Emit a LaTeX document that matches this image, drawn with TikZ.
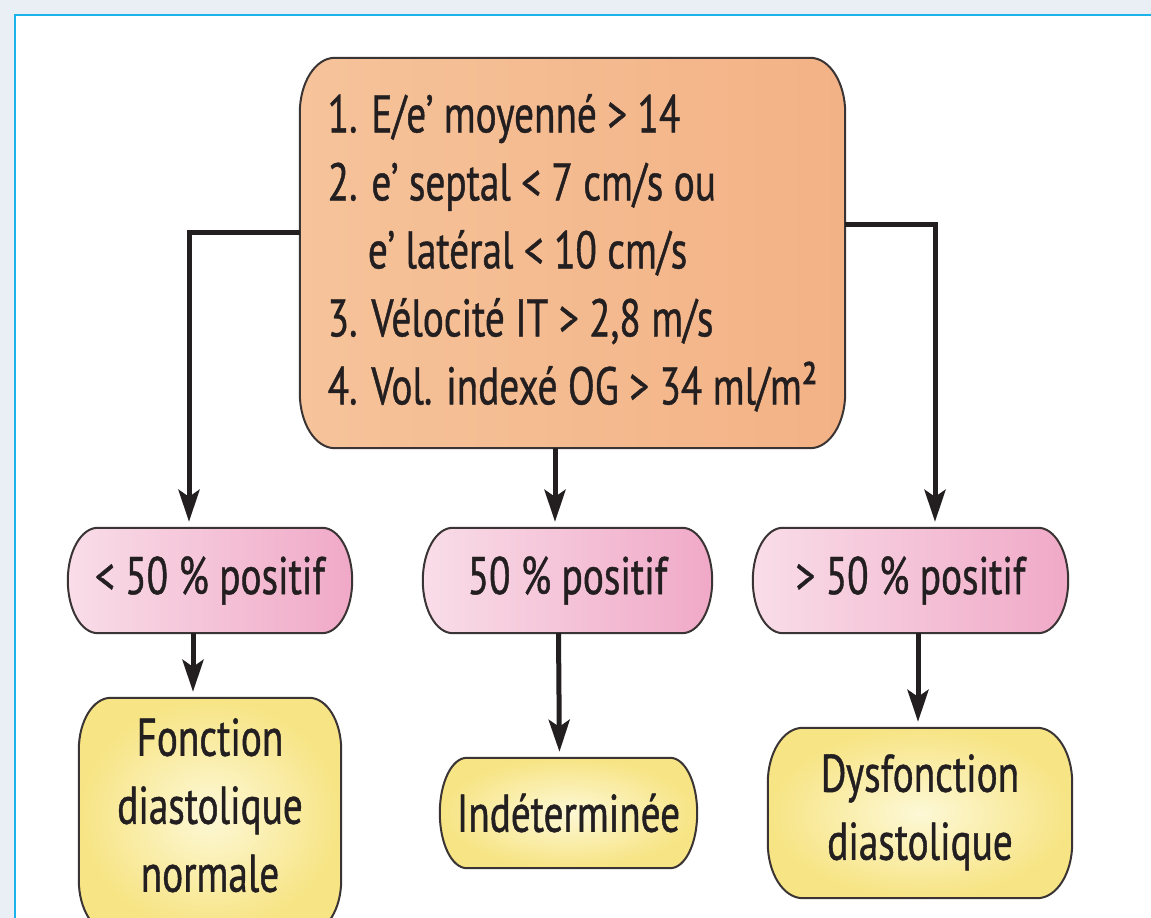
\documentclass[tikz,border=0pt]{standalone}
\usepackage{fontspec}
\setmainfont{PT Sans}[FakeStretch=0.74,FakeBold=0.8]
\usetikzlibrary{arrows.meta,calc}
\pgfdeclarelayer{back}\pgfdeclarelayer{bg}
\pgfsetlayers{back,bg,main}
\definecolor{pagebg}{HTML}{E9EFF4}
\definecolor{framec}{HTML}{1AB3EA}
\definecolor{inkc}{HTML}{231F20}
\definecolor{edgec}{HTML}{3A3434}
\definecolor{peachL}{HTML}{F6C39A}
\definecolor{peachM}{HTML}{FAD5B5}
\definecolor{peachR}{HTML}{F3B285}
\definecolor{pinkL}{HTML}{F9DDE8}
\definecolor{pinkR}{HTML}{F0A9C7}
\definecolor{yelI}{HTML}{FDF8D6}
\definecolor{yelO}{HTML}{F7E484}
% elliptical rounded box around node #1, radii #2 #3, style #4
\newcommand\eshape[4]{%
  \path[#4] ([xshift=#2]#1.north west) -- ([xshift=-#2]#1.north east)
    arc[start angle=90,end angle=0,x radius=#2,y radius=#3]
    -- ([yshift=#3]#1.south east)
    arc[start angle=0,end angle=-90,x radius=#2,y radius=#3]
    -- ([xshift=#2]#1.south west)
    arc[start angle=270,end angle=180,x radius=#2,y radius=#3]
    -- ([yshift=-#3]#1.north west)
    arc[start angle=180,end angle=90,x radius=#2,y radius=#3] -- cycle;}
\begin{document}
\begin{tikzpicture}[x=1pt,y=1pt,
  txt/.style={font=\fontsize{53}{68}\selectfont, text=inkc, inner sep=0pt, align=center},
  edgeline/.style={draw=edgec, line width=2pt},
  peachfill/.style={edgeline, left color=peachL, middle color=peachM, right color=peachR},
  pinkfill/.style={edgeline, left color=pinkL, right color=pinkR},
  yelfill/.style={edgeline, inner color=yelI, outer color=yelO},
  arr/.style={draw=inkc, line width=5pt, -{Stealth[length=32pt,width=21pt,inset=7pt]}, shorten >=6pt}
]
\useasboundingbox (0,0) rectangle (1151,918);
\begin{pgfonlayer}{back}
  \fill[pagebg] (0,0) rectangle (1151,918);
  \begin{scope}
    \clip (0,0) rectangle (1151,918);
    \filldraw[fill=white, draw=framec, line width=2.5pt] (15,-20) rectangle (1170,903);
  \end{scope}
\end{pgfonlayer}

% nodes
\node[txt, align=left, minimum width=545pt, minimum height=390pt] (T) at (572.5,665)
  {1. E/e’ moyenné > 14\\2. e’ septal < 7 cm/s ou\\\phantom{2.} e’ latéral < 10 cm/s\\3. Vélocité IT > 2,8 m/s\\4. Vol. indexé OG > 34 ml/m²};
\node[txt, minimum width=284pt, minimum height=105pt] (P1) at (210,337.5) {< 50 \% positif};
\node[txt, minimum width=289pt, minimum height=105pt] (P2) at (567.5,337.5) {50 \% positif};
\node[txt, minimum width=315pt, minimum height=105pt] (P3) at (910.5,337.5) {> 50 \% positif};
\node[txt, minimum width=262pt, minimum height=234pt] (Y1) at (210,103) {Fonction\\diastolique\\normale\rule[-20pt]{0pt}{20pt}};
\node[txt, minimum width=257pt, minimum height=110pt] (Y2) at (568.5,105) {Indéterminée};
\node[txt, minimum width=304pt, minimum height=170pt] (Y3) at (920,105) {Dysfonction\\diastolique\rule[-12pt]{0pt}{12pt}};

\begin{pgfonlayer}{bg}
  \eshape{T}{35}{55}{peachfill}
  \eshape{P1}{30}{52.5}{pinkfill}
  \eshape{P2}{30}{52.5}{pinkfill}
  \eshape{P3}{30}{52.5}{pinkfill}
  \eshape{Y1}{32}{52}{yelfill}
  \eshape{Y2}{27}{55}{yelfill}
  \eshape{Y3}{35}{55}{yelfill}
\end{pgfonlayer}

% connectors
\draw[arr] ([yshift=20pt]T.west) -| ([xshift=-21pt]P1.north);
\draw[arr] ([yshift=28pt]T.east) -| ([xshift=24.5pt]P3.north);
\draw[arr] ([xshift=-17.5pt]T.south) -- ([xshift=-12.5pt]P2.north);
\draw[arr] ([xshift=-17pt]P1.south) -- ([xshift=-17pt]Y1.north);
\draw[arr] ([xshift=-9pt]P2.south) -- ([xshift=-9pt]Y2.north);
\draw[arr] ([xshift=7.5pt]P3.south) -- ([xshift=-2pt]Y3.north);
\end{tikzpicture}
\end{document}
